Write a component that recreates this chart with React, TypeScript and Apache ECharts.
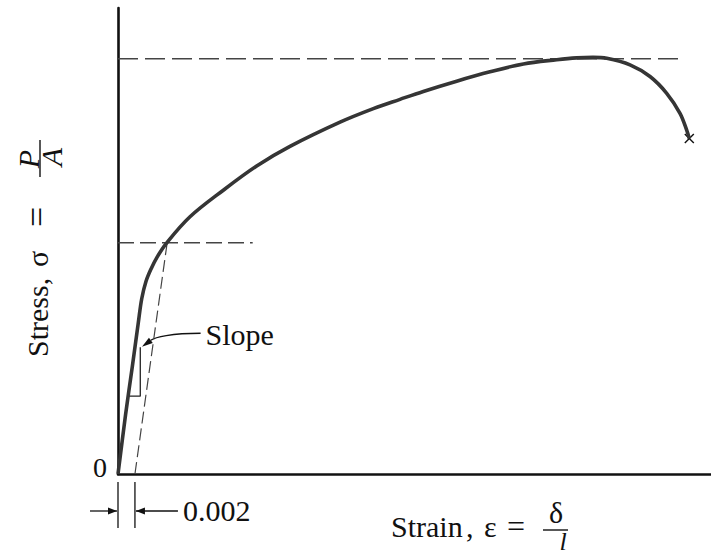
import React, { useEffect, useRef } from "react";
import * as echarts from "echarts";

// Engineering stress–strain curve (schematic); strain on x, stress (arbitrary units) on y
const strain = [0, 0.0009, 0.0017, 0.0024, 0.0028, 0.0033, 0.0039, 0.0046, 0.00575, 0.0085, 0.01243, 0.01637, 0.0203, 0.02621, 0.03014, 0.03329, 0.03604, 0.03998, 0.04391, 0.04785, 0.05179, 0.05415, 0.05607, 0.05769, 0.06044, 0.0628, 0.06477, 0.06634, 0.06713, 0.06744];
const stress = [0, 12.8, 23.2, 32.5, 37.6, 41.3, 44.0, 46.5, 49.6, 55.2, 60.9, 66.1, 70.3, 75.5, 78.4, 80.4, 82.1, 84.3, 86.3, 88.0, 88.9, 89.3, 89.4, 89.2, 87.8, 85.3, 81.7, 77.4, 73.8, 72.0];

const OFFSET = 0.002;
const offsetLabel = "0.002";
const yieldStress = 49.6;
const ultimateStress = 89.1;
const yieldLineStrain = [0, 0.0159];
const ultimateLineStrain = [0, 0.0667];
const offsetLineStrain = [OFFSET, 0.0058];
const offsetLineStress = [0, yieldStress];
const slopeTriStrain = [0.00126, 0.00263, 0.00263];
const slopeTriStress = [16.7, 16.7, 27.2];
const slopeArrowFrom = [0.00975, 30.2];
const slopeArrowTo = [0.00283, 27.3];
const fracture = [0.06744, 72.0];
const xRange = [0, 0.07];
const yRange = [0, 100];

const FONT = '"Liberation Serif", "Times New Roman", serif';
const INK = "#111";

export default function App() {
  const ref = useRef<HTMLDivElement>(null);
  useEffect(() => {
    const el = ref.current!;
    const chart = echarts.init(el, null, { renderer: "svg" });
    const pairs = (xs: number[], ys: number[]) => xs.map((x, i) => [x, ys[i]]);
    chart.setOption({
      animation: false,
      backgroundColor: "#fff",
      grid: { left: 118, right: 0, top: 8, bottom: 82 },
      xAxis: {
        type: "value",
        min: xRange[0],
        max: xRange[1],
        axisLine: { show: true, onZero: false, lineStyle: { color: INK, width: 2.6 } },
        axisTick: { show: false },
        axisLabel: { show: false },
        splitLine: { show: false },
      },
      yAxis: {
        type: "value",
        min: yRange[0],
        max: yRange[1],
        interval: 100,
        axisLine: { show: true, lineStyle: { color: INK, width: 2.6 } },
        axisTick: { show: false },
        splitLine: { show: false },
        axisLabel: {
          formatter: (v: number) => (v === 0 ? "0" : ""),
          fontFamily: FONT,
          fontSize: 28,
          color: INK,
          margin: 11,
          lineHeight: 14,
          verticalAlign: "bottom",
        },
      },
      series: [
        {
          type: "line",
          data: pairs(ultimateLineStrain, [ultimateStress, ultimateStress]),
          symbol: "none",
          lineStyle: { color: "#444", width: 1.5, type: [20, 7] },
          z: 1,
        },
        {
          type: "line",
          data: pairs(yieldLineStrain, [yieldStress, yieldStress]),
          symbol: "none",
          lineStyle: { color: "#444", width: 1.5, type: [16, 6] },
          z: 1,
        },
        {
          type: "line",
          data: pairs(offsetLineStrain, offsetLineStress),
          symbol: "none",
          lineStyle: { color: "#444", width: 1.2, type: [12, 5] },
          z: 1,
        },
        {
          type: "line",
          data: pairs(slopeTriStrain, slopeTriStress),
          symbol: "none",
          lineStyle: { color: "#222", width: 1.3 },
          z: 2,
        },
        {
          type: "line",
          data: pairs(strain, stress),
          symbol: "none",
          smooth: 0.35,
          lineStyle: { color: "#353535", width: 3.6 },
          z: 3,
        },
      ],
    });

    const px = (x: number, y: number) => chart.convertToPixel({ gridIndex: 0 }, [x, y]) as number[];
    const [ox, oy] = px(0, 0);
    const [dx] = px(OFFSET, 0);
    const ay = oy + 37;
    const [s0x, s0y] = px(slopeArrowFrom[0], slopeArrowFrom[1]);
    const [s1x, s1y] = px(slopeArrowTo[0], slopeArrowTo[1]);
    const c1 = [s0x - (s0x - s1x) * 0.5, s0y];
    const c2 = [s1x + 13, s1y - 9.5];
    const ang = Math.atan2(s1y - c2[1], s1x - c2[0]);
    const hl = 11, hw = 3.2;
    const bx = s1x - hl * Math.cos(ang), by = s1y - hl * Math.sin(ang);
    const head = [
      [s1x, s1y],
      [bx + hw * Math.sin(ang), by - hw * Math.cos(ang)],
      [bx - hw * Math.sin(ang), by + hw * Math.cos(ang)],
    ];
    const [fx, fy] = px(fracture[0], fracture[1]);
    const txt = (text: string, x: number, y: number, extra: any = {}) => ({
      type: "text",
      x,
      y,
      style: { text, fontFamily: FONT, fontSize: 30, fill: INK, align: "left", verticalAlign: "middle", ...extra },
    });
    const ln = (x1: number, y1: number, x2: number, y2: number, w = 1.3) => ({
      type: "line",
      shape: { x1, y1, x2, y2 },
      style: { stroke: INK, lineWidth: w },
    });

    chart.setOption({
      graphic: [
        // 0.002 dimension
        ln(ox, oy + 8, ox, oy + 54),
        ln(dx, oy + 8, dx, oy + 54),
        ln(ox - 28, ay, ox - 1, ay),
        { type: "polygon", shape: { points: [[ox - 1, ay], [ox - 10, ay - 3.5], [ox - 10, ay + 3.5]] }, style: { fill: INK } },
        ln(dx + 43, ay, dx + 1, ay),
        { type: "polygon", shape: { points: [[dx + 1, ay], [dx + 10, ay - 3.5], [dx + 10, ay + 3.5]] }, style: { fill: INK } },
        txt(offsetLabel, dx + 48, ay - 1),
        // Slope annotation
        {
          type: "bezierCurve",
          shape: { x1: s0x, y1: s0y, cpx1: c1[0], cpy1: c1[1], cpx2: c2[0], cpy2: c2[1], x2: bx, y2: by },
          style: { stroke: INK, lineWidth: 1.3, fill: "none" },
        },
        { type: "polygon", shape: { points: head }, style: { fill: INK } },
        txt("Slope", s0x + 5, s0y + 1.5),
        // fracture cross
        ln(fx - 4.5, fy - 4.5, fx + 4.5, fy + 4.5, 1.4),
        ln(fx - 4.5, fy + 4.5, fx + 4.5, fy - 4.5, 1.4),
        // y-axis title
        {
          type: "group",
          x: 47,
          y: 357,
          rotation: Math.PI / 2,
          children: [
            txt("Stress,", 0, -10),
            txt("σ", 90, -10),
            txt("=", 130, -10, { fontSize: 36 }),
            txt("P", 198, -19, { align: "center", fontStyle: "italic" }),
            { type: "line", shape: { x1: 180, y1: -7, x2: 217, y2: -7 }, style: { stroke: INK, lineWidth: 1.4 } },
            txt("A", 200, 4, { align: "center", fontStyle: "italic" }),
          ],
        },
        // x-axis title
        txt("Strain", 391, 526),
        txt(",", 466, 526),
        txt("ε", 484, 526),
        txt("=", 507, 526, { fontSize: 32 }),
        txt("δ", 556, 512, { align: "center" }),
        ln(543, 530, 568, 530, 1.4),
        txt("l", 563, 541, { align: "center", fontStyle: "italic", fontSize: 26 }),
      ],
    });
    return () => chart.dispose();
  }, []);
  return (
    <div
      ref={ref}
      style={{ position: "fixed", left: 0, top: 0, width: 711, height: 556, background: "#fff" }}
    />
  );
}
